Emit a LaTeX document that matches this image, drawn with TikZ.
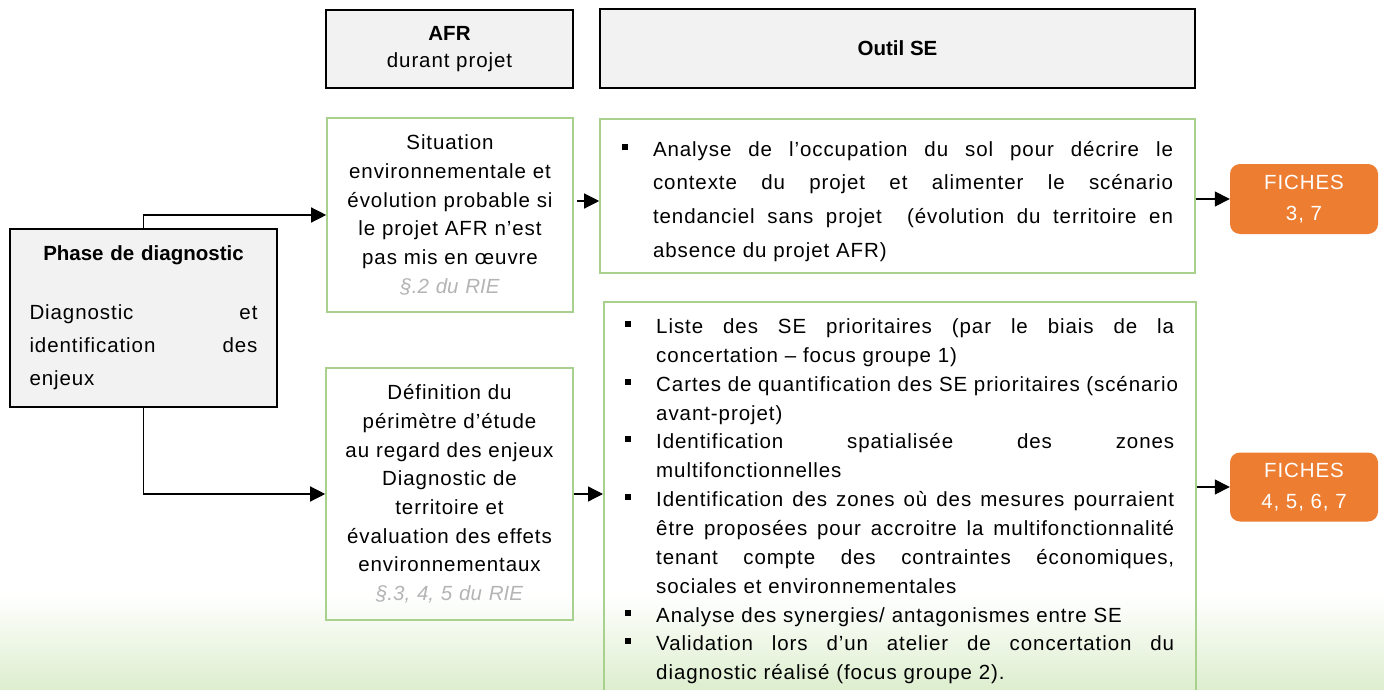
\documentclass[tikz,border=0pt]{standalone}
\usepackage{fontspec}
\setmainfont{Liberation Sans}[UprightFeatures={LetterSpace=4.5}]
\usetikzlibrary{arrows.meta}
\definecolor{hdrgray}{HTML}{F2F2F2}
\definecolor{boxgreen}{HTML}{A9D18E}
\definecolor{ficheorange}{HTML}{ED7D31}
\definecolor{refgray}{HTML}{B4B4B4}
\definecolor{bggreen}{RGB}{221,238,206}
\newcommand\jl[2]{\leavevmode\hbox to #1{\spaceskip=\fontdimen2\font plus 1fil\relax #2}}
\newcommand\bsq{\leavevmode\makebox[31pt][l]{\rule[6.5pt]{6pt}{6pt}}}
\newcommand\ind{\hspace*{31pt}}
\begin{document}
\begin{tikzpicture}[x=1pt,y=-1pt,
  txt/.style={font=\fontsize{20.5}{28.7}\selectfont},
  hdr/.style={draw=black, fill=hdrgray, line width=1.5pt, inner sep=0pt, align=center},
  gbox/.style={draw=boxgreen, line width=1.6pt, inner sep=0pt},
  fiche/.style={fill=ficheorange, rounded corners=10pt, text=white, align=center,
    minimum width=148pt, minimum height=70pt, inner sep=0pt, font=\fontsize{20.5}{31}\selectfont},
  arr/.style={-{Triangle[length=15pt,width=15pt]}, line width=1.3pt, black}]
\clip (0,0) rectangle (1384,690);
\shade[top color=white, bottom color=bggreen] (0,595) rectangle (1384,690);

% headers
\node[hdr, txt, font=\fontsize{20.5}{27}\selectfont, minimum width=247pt, minimum height=78pt] (afr) at (449.5,49)
  {\textbf{AFR}\\durant projet};
\node[hdr, txt, line width=2.5pt, minimum width=595pt, minimum height=79pt] (outil) at (897.5,48.5)
  {\textbf{Outil SE}};

% left box
\node[hdr, line width=2pt, font=\fontsize{20.5}{33}\selectfont, text width=228pt, align=center,
  minimum width=267pt, minimum height=178pt] (lb) at (143.5,318)
  {\textbf{Phase de diagnostic}\\[26pt]
   \jl{228pt}{Diagnostic \hfill et}\\
   \jl{228pt}{identification \hfill des}\\
   \makebox[228pt][l]{enjeux}};

% green boxes (AFR column)
\node[gbox, txt, text width=240pt, align=center, minimum width=246pt, minimum height=194pt] (g1) at (450,215)
  {Situation\\environnementale et\\évolution probable si\\le projet AFR n’est\\pas mis en œuvre\\
   {\color{refgray}\itshape §.2 du RIE}};
\node[gbox, txt, text width=240pt, align=center, minimum width=247pt, minimum height=252pt] (g2) at (449.5,494)
  {Définition du\\périmètre d’étude\\au regard des enjeux\\Diagnostic de\\territoire et\\évaluation des effets\\environnementaux\\
   {\color{refgray}\itshape §.3, 4, 5 du RIE}};

% green boxes (Outil SE column)
\node[gbox, font=\fontsize{20.5}{33.7}\selectfont, text width=551pt, align=left, minimum width=595pt, minimum height=154pt] (r1) at (897.5,196)
  {\bsq\rule{0pt}{25.5pt}\jl{520pt}{Analyse de l’occupation du sol pour décrire le}\\
   \ind\jl{520pt}{contexte du projet et alimenter le scénario}\\
   \ind\jl{520pt}{tendanciel sans projet \ (évolution du territoire en}\\
   \ind absence du projet AFR)};
\node[gbox, anchor=north west, minimum width=592pt, minimum height=420pt] (r2) at (603,301) {};
\node[font=\fontsize{20.5}{28.85}\selectfont, anchor=north west, inner sep=0pt, text width=550pt, align=left] (r2t) at (625,318.5)
  {\bsq\jl{518pt}{Liste des SE prioritaires (par le biais de la}\\
   \ind concertation – focus groupe 1)\\
   \bsq\jl{518pt}{Cartes de quantification des SE prioritaires (scénario}\\
   \ind avant-projet)\\
   \bsq\jl{518pt}{Identification spatialisée des zones}\\
   \ind multifonctionnelles\\
   \bsq\jl{518pt}{Identification des zones où des mesures pourraient}\\
   \ind\jl{518pt}{être proposées pour accroitre la multifonctionnalité}\\
   \ind\jl{518pt}{tenant compte des contraintes économiques,}\\
   \ind sociales et environnementales\\
   \bsq Analyse des synergies/ antagonismes entre SE\\
   \bsq\jl{518pt}{Validation lors d’un atelier de concertation du}\\
   \ind diagnostic réalisé (focus groupe 2).};

% fiches
\node[fiche] (f1) at (1304,199) {FICHES\\3, 7};
\node[fiche, minimum height=69pt] (f2) at (1304,487) {FICHES\\4, 5, 6, 7};

% connectors
\draw[arr] (lb.north) |- (g1.west);
\draw[arr] (lb.south) |- (g2.west);
\draw[arr, shorten <=3pt] ([yshift=14pt]g1.east) -- ([yshift=14pt]g1.east -| r1.west);
\draw[arr] (g2.east) -- (g2.east -| r2.west);
\draw[arr] (f1.west -| r1.east) -- (f1.west);
\draw[arr] (f2.west -| r2.east) -- (f2.west);
\end{tikzpicture}
\end{document}
